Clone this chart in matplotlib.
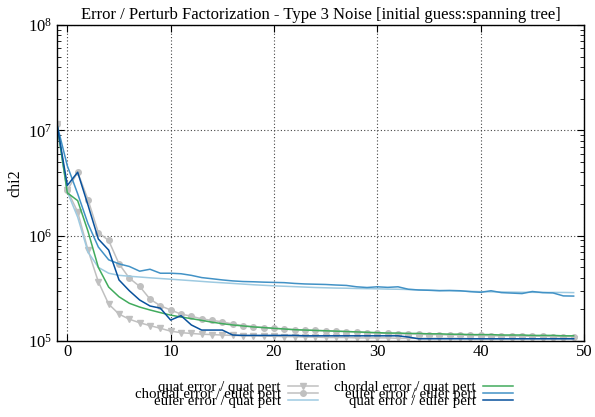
import matplotlib
matplotlib.use("Agg")
import matplotlib.pyplot as plt
import numpy as np

plt.rcParams['font.family'] = ['Liberation Serif', 'DejaVu Serif']
plt.rcParams['mathtext.fontset'] = 'stix'

iterations = list(range(-1, 50))

quat_quat = [1.14e7, 2.7e6, 1.68e6, 7.3e5, 3.65e5, 2.24e5, 1.8e5, 1.61e5, 1.49e5, 1.4e5,
             1.32e5, 1.24e5, 1.2e5, 1.18e5, 1.16e5, 1.15e5, 1.14e5, 1.13e5, 1.12e5, 1.12e5,
             1.11e5, 1.11e5, 1.1e5, 1.1e5, 1.09e5, 1.09e5, 1.08e5, 1.08e5, 1.08e5, 1.07e5,
             1.07e5, 1.07e5, 1.07e5, 1.06e5, 1.06e5, 1.06e5, 1.06e5, 1.06e5, 1.06e5, 1.06e5,
             1.05e5, 1.05e5, 1.05e5, 1.05e5, 1.05e5, 1.05e5, 1.05e5, 1.05e5, 1.05e5, 1.05e5,
             1.05e5]
chordal_euler = [1.14e7, 2.7e6, 4.0e6, 2.2e6, 1.07e6, 9.0e5, 5.4e5, 3.95e5, 3.3e5, 2.5e5,
                 2.16e5, 1.97e5, 1.8e5, 1.72e5, 1.62e5, 1.57e5, 1.52e5, 1.45e5, 1.4e5, 1.37e5,
                 1.34e5, 1.32e5, 1.3e5, 1.28e5, 1.27e5, 1.26e5, 1.25e5, 1.24e5, 1.23e5, 1.22e5,
                 1.2e5, 1.19e5, 1.18e5, 1.17e5, 1.17e5, 1.16e5, 1.15e5, 1.15e5, 1.14e5, 1.14e5,
                 1.13e5, 1.13e5, 1.12e5, 1.12e5, 1.12e5, 1.11e5, 1.11e5, 1.11e5, 1.1e5, 1.1e5,
                 1.1e5]
euler_quat = [1.14e7, 2.6e6, 1.5e6, 7.0e5, 5.0e5, 4.4e5, 4.2e5, 4.12e5, 4.05e5, 3.98e5,
              3.92e5, 3.86e5, 3.8e5, 3.74e5, 3.68e5, 3.62e5, 3.57e5, 3.52e5, 3.47e5, 3.42e5,
              3.38e5, 3.34e5, 3.31e5, 3.28e5, 3.25e5, 3.22e5, 3.2e5, 3.18e5, 3.17e5, 3.15e5,
              3.14e5, 3.13e5, 3.11e5, 3.1e5, 3.08e5, 3.06e5, 3.04e5, 3.02e5, 3.0e5, 2.98e5,
              2.96e5, 2.94e5, 2.93e5, 2.92e5, 2.91e5, 2.9e5, 2.9e5, 2.89e5, 2.89e5, 2.89e5,
              2.88e5]
chordal_quat = [1.14e7, 2.55e6, 2.15e6, 1.1e6, 5.0e5, 3.25e5, 2.63e5, 2.28e5, 2.1e5, 1.97e5,
                1.86e5, 1.76e5, 1.69e5, 1.63e5, 1.57e5, 1.51e5, 1.46e5, 1.42e5, 1.39e5, 1.36e5,
                1.34e5, 1.32e5, 1.3e5, 1.28e5, 1.27e5, 1.26e5, 1.25e5, 1.24e5, 1.23e5, 1.22e5,
                1.21e5, 1.2e5, 1.19e5, 1.19e5, 1.18e5, 1.18e5, 1.17e5, 1.17e5, 1.16e5, 1.16e5,
                1.15e5, 1.15e5, 1.15e5, 1.14e5, 1.14e5, 1.14e5, 1.13e5, 1.13e5, 1.13e5, 1.12e5,
                1.12e5]
euler_euler = [1.14e7, 4.6e6, 2.5e6, 1.3e6, 7.8e5, 5.9e5, 5.4e5, 5.1e5, 4.6e5, 4.8e5,
               4.4e5, 4.4e5, 4.35e5, 4.2e5, 4.0e5, 3.9e5, 3.8e5, 3.72e5, 3.67e5, 3.65e5,
               3.62e5, 3.6e5, 3.58e5, 3.52e5, 3.48e5, 3.46e5, 3.44e5, 3.4e5, 3.37e5, 3.27e5,
               3.22e5, 3.27e5, 3.23e5, 3.27e5, 3.1e5, 3.05e5, 3.03e5, 3.0e5, 3.02e5, 3.0e5,
               2.94e5, 2.9e5, 3.0e5, 2.88e5, 2.85e5, 2.82e5, 2.95e5, 2.88e5, 2.86e5, 2.68e5,
               2.67e5]
quat_euler = [1.14e7, 3.0e6, 4.0e6, 1.95e6, 9.3e5, 7.3e5, 3.8e5, 3.0e5, 2.45e5, 2.15e5,
              2.05e5, 1.58e5, 1.74e5, 1.42e5, 1.27e5, 1.27e5, 1.27e5, 1.14e5, 1.13e5, 1.13e5,
              1.13e5, 1.13e5, 1.13e5, 1.13e5, 1.12e5, 1.12e5, 1.12e5, 1.12e5, 1.12e5, 1.12e5,
              1.12e5, 1.12e5, 1.12e5, 1.12e5, 1.09e5, 1.05e5, 1.05e5, 1.05e5, 1.05e5, 1.05e5,
              1.05e5, 1.05e5, 1.05e5, 1.05e5, 1.05e5, 1.05e5, 1.05e5, 1.05e5, 1.05e5, 1.05e5,
              1.05e5]

fig = plt.figure(figsize=(5.95, 4.17), dpi=100)
ax = fig.add_axes([57/595, 1 - 341/417, 527/595, 316/417])

gray = '#c0c0c0'
ax.plot(iterations, quat_quat, color=gray, lw=1.1, marker='v', ms=4.5, label='quat error / quat pert')
ax.plot(iterations, chordal_euler, color=gray, lw=1.1, marker='o', ms=4, label='chordal error / euler pert')
ax.plot(iterations, euler_quat, color='#9ecae1', lw=1.1, label='euler error / quat pert')
ax.plot(iterations, chordal_quat, color='#41ab5d', lw=1.1, label='chordal error / quat pert')
ax.plot(iterations, euler_euler, color='#4292c6', lw=1.1, label='euler error / euler pert')
ax.plot(iterations, quat_euler, color='#08519c', lw=1.1, label='quat error / euler pert')

ax.set_yscale('log')
ax.set_xlim(-1, 50)
ax.set_ylim(1e5, 1e8)
ax.set_xticks([0, 10, 20, 30, 40, 50])
ax.grid(True, which='major', color='#444444', linestyle=(0, (1, 2)), linewidth=0.8)
ax.tick_params(which='both', direction='in', top=True, right=True, labelsize=12)
ax.tick_params(which='major', length=5)
ax.tick_params(which='minor', length=3)
ax.tick_params(axis='x', pad=2)
for s in ax.spines.values():
    s.set_linewidth(1.0)

ax.set_title('Error / Perturb Factorization - Type 3 Noise [initial guess:spanning tree]',
             fontsize=12, pad=4)
ax.set_xlabel('Iteration', fontsize=11, labelpad=0)
ax.set_ylabel('chi2', fontsize=11.5, labelpad=3)

fig.legend(loc='upper center', bbox_to_anchor=(324/595, 1 - 373/417), ncol=2,
           markerfirst=False, frameon=False, fontsize=10.7, labelspacing=-0.42,
           handlelength=2.0, handletextpad=0.5, columnspacing=1.1, borderpad=0)

fig.savefig('out.png', dpi=100)
